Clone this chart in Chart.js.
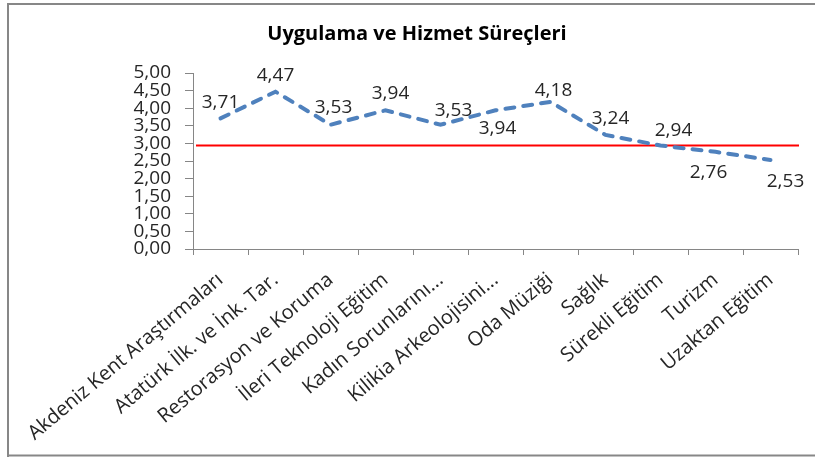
<!DOCTYPE html>
<html>
<head>
<meta charset="utf-8">
<script src="https://cdn.jsdelivr.net/npm/chart.js@4"></script>
<style>
  html, body { margin: 0; padding: 0; background: #ffffff; }
  #wrap { width: 815px; height: 457px; position: relative; }
</style>
</head>
<body>
<div id="wrap"><canvas id="c" width="815" height="457"></canvas></div>
<script>
const categories = [
  "Akdeniz Kent Araştırmaları",
  "Atatürk İlk. ve İnk. Tar.",
  "Restorasyon ve Koruma",
  "İleri Teknoloji Eğitim",
  "Kadın Sorunlarını...",
  "Kilikia Arkeolojisini...",
  "Oda Müziği",
  "Sağlık",
  "Sürekli Eğitim",
  "Turizm",
  "Uzaktan Eğitim"
];
const scores = [3.71, 4.47, 3.53, 3.94, 3.53, 3.94, 4.18, 3.24, 2.94, 2.76, 2.53];
const referenceLine = 2.94;
const yTicks = [0, 0.5, 1, 1.5, 2, 2.5, 3, 3.5, 4, 4.5, 5];
const chartTitle = "Uygulama ve Hizmet Süreçleri";

// label placement offsets (pixels, relative to each point) - styling only
const labelShift = [
  [0, -16], [0, -16], [3, -17], [5, -17], [13, -14], [2, 18],
  [3, -11], [5, -16], [13, -15], [-7, 21], [15, 22]
];

const fmt = v => v.toFixed(2).replace('.', ',');
const TEXT = '#262626';
const AXIS = '#868686';

const framePlugin = {
  id: 'frame',
  beforeDraw(chart) {
    const ctx = chart.ctx;
    ctx.save();
    ctx.fillStyle = '#ffffff';
    ctx.fillRect(0, 0, chart.width, chart.height);
    ctx.strokeStyle = '#878787';
    ctx.lineWidth = 2;
    ctx.beginPath();
    ctx.moveTo(8, 460);
    ctx.lineTo(8, 4);
    ctx.lineTo(820, 4);
    ctx.moveTo(8, 455.5);
    ctx.lineTo(820, 455.5);
    ctx.stroke();
    ctx.restore();
  }
};

const refLinePlugin = {
  id: 'refLine',
  beforeDatasetsDraw(chart) {
    const { ctx, chartArea, scales } = chart;
    const y = scales.y.getPixelForValue(referenceLine);
    ctx.save();
    ctx.strokeStyle = '#FF0000';
    ctx.lineWidth = 2;
    ctx.beginPath();
    ctx.moveTo(chartArea.left + 3, y);
    ctx.lineTo(chartArea.right + 1, y);
    ctx.stroke();
    ctx.restore();
  }
};

const valueLabelPlugin = {
  id: 'valueLabels',
  afterDatasetsDraw(chart) {
    const { ctx } = chart;
    const meta = chart.getDatasetMeta(0);
    ctx.save();
    ctx.font = '19px "Open Sans", sans-serif';
    ctx.fillStyle = TEXT;
    ctx.textAlign = 'center';
    ctx.textBaseline = 'middle';
    meta.data.forEach((pt, i) => {
      const s = labelShift[i] || [0, -15];
      ctx.fillText(fmt(scores[i]), pt.x + s[0], pt.y + s[1]);
    });
    ctx.restore();
  }
};

new Chart(document.getElementById('c'), {
  type: 'line',
  data: {
    labels: categories,
    datasets: [{
      data: scores,
      borderColor: '#4F81BD',
      borderWidth: 4,
      borderDash: [9, 9],
      borderCapStyle: 'round',
      tension: 0,
      pointRadius: 0,
      fill: false
    }]
  },
  options: {
    responsive: false,
    animation: false,
    devicePixelRatio: 1,
    layout: { padding: { left: 36, right: 17, top: 0, bottom: 0 } },
    plugins: {
      legend: { display: false },
      tooltip: { enabled: false },
      title: {
        display: true,
        text: chartTitle,
        color: '#000000',
        font: { family: '"Open Sans", sans-serif', size: 20, weight: 'bold', lineHeight: 1.2 },
        padding: { top: 22, bottom: 27 }
      }
    },
    scales: {
      x: {
        offset: true,
        grid: {
          display: true,
          offset: true,
          drawOnChartArea: false,
          drawTicks: true,
          tickLength: 6,
          color: AXIS,
          lineWidth: 1
        },
        border: { display: true, color: AXIS, width: 1 },
        ticks: {
          autoSkip: false,
          minRotation: 40,
          maxRotation: 40,
          padding: 13,
          color: TEXT,
          font: { family: '"Open Sans", sans-serif', size: 20 }
        },
        afterFit(scale) { scale.height = 208; }
      },
      y: {
        min: 0,
        max: 5,
        afterBuildTicks(scale) { scale.ticks = yTicks.map(v => ({ value: v })); },
        grid: {
          display: true,
          drawOnChartArea: false,
          drawTicks: true,
          tickLength: 8,
          color: AXIS
        },
        border: { display: true, color: AXIS, width: 1 },
        ticks: {
          autoSkip: false,
          padding: 14,
          color: TEXT,
          font: { family: '"Open Sans", sans-serif', size: 19, lineHeight: 1 },
          callback: v => fmt(v)
        },
        afterFit(scale) { scale.width = 157; }
      }
    }
  },
  plugins: [framePlugin, refLinePlugin, valueLabelPlugin]
});
</script>
</body>
</html>
